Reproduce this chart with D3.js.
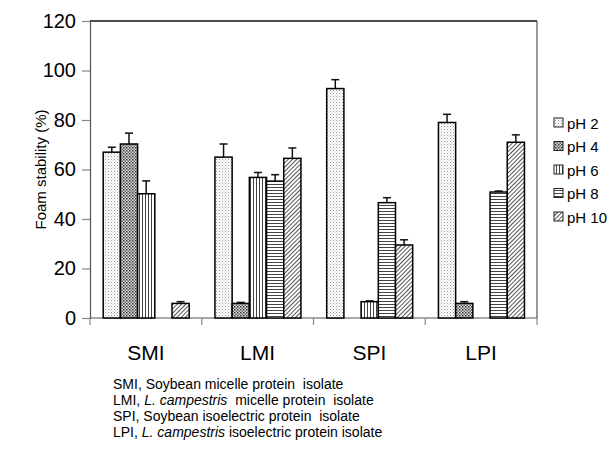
<!DOCTYPE html>
<html><head><meta charset="utf-8">
<script src="https://cdn.jsdelivr.net/npm/d3@7"></script>
<style>body{margin:0;background:#fff}svg{display:block}text{font-family:"Liberation Sans",Arial,sans-serif}</style>
</head><body>
<script>
const categories = ["SMI", "LMI", "SPI", "LPI"];
const seriesNames = ["pH 2", "pH 4", "pH 6", "pH 8", "pH 10"];
const pH2  = [67, 65, 92.7, 79];
const pH4  = [70.3, 5.9, null, 5.9];
const pH6  = [50.2, 56.8, 6.6, null];
const pH8  = [null, 55.3, 46.6, 50.9];
const pH10 = [5.9, 64.5, 29.5, 71];
const err2  = [2, 5.3, 3.6, 3.3];
const err4  = [4.4, 0.4, null, 0.7];
const err6  = [5.2, 2, 0.3, null];
const err8  = [null, 2.6, 2, 0.4];
const err10 = [0.7, 4.2, 2.1, 3];
const yTicks = [0, 20, 40, 60, 80, 100, 120];
const footnotes = [
  [["SMI, Soybean micelle protein  isolate", false]],
  [["LMI, ", false], ["L. campestris", true], ["  micelle protein  isolate", false]],
  [["SPI, Soybean isoelectric protein  isolate", false]],
  [["LPI, ", false], ["L. campestris", true], [" isoelectric protein isolate", false]]
];

(function () {
const values = [pH2, pH4, pH6, pH8, pH10];
const errors = [err2, err4, err6, err8, err10];

const W = 611, H = 449;
const svg = d3.select("body").append("svg").attr("width", W).attr("height", H);
const defs = svg.append("defs");

function pat(id, w, h, draw) {
  const p = defs.append("pattern").attr("id", id).attr("patternUnits", "userSpaceOnUse")
    .attr("width", w).attr("height", h);
  p.append("rect").attr("width", w).attr("height", h).attr("fill", "#fff");
  draw(p);
}
pat("p0", 3, 3, p => {
  p.append("rect").attr("x", 0).attr("y", 0).attr("width", 1).attr("height", 1).attr("fill", "#999");
  p.append("rect").attr("x", 1.5).attr("y", 1.5).attr("width", 1).attr("height", 1).attr("fill", "#bbb");
});
pat("p1", 3, 3, p => {
  p.append("rect").attr("width", 3).attr("height", 3).attr("fill", "#ddd");
  p.append("rect").attr("x", 0).attr("y", 0).attr("width", 1.5).attr("height", 1.5).attr("fill", "#333");
  p.append("rect").attr("x", 1.5).attr("y", 1.5).attr("width", 1.5).attr("height", 1.5).attr("fill", "#666");
});
pat("p2", 3, 3, p => {
  p.append("rect").attr("x", 1).attr("y", 0).attr("width", 1).attr("height", 3).attr("fill", "#444");
});
pat("p3", 3, 3, p => {
  p.append("rect").attr("x", 0).attr("y", 1).attr("width", 3).attr("height", 1).attr("fill", "#444");
});
pat("p4", 3, 3, p => {
  p.attr("patternTransform", "rotate(45)");
  p.append("rect").attr("x", 1).attr("y", 0).attr("width", 1).attr("height", 3).attr("fill", "#555");
});

const mL = 90, mR = 537, mT = 21, mB = 318;
const y = d3.scaleLinear().domain([0, 120]).range([mB, mT]);
const x0 = d3.scaleBand().domain(categories).range([mL, mR]).padding(0);
const x1 = d3.scaleBand().domain(seriesNames).range([13.2, 13.2 + 86]).padding(0);

svg.append("line").attr("x1", mL).attr("x2", mR).attr("y1", mT).attr("y2", mT)
  .attr("stroke", "#111").attr("stroke-width", 1.5);
svg.append("line").attr("x1", mR).attr("x2", mR).attr("y1", mT).attr("y2", mB)
  .attr("stroke", "#333").attr("stroke-width", 1);

const yAxis = d3.axisLeft(y).tickValues(yTicks).tickSize(8).tickPadding(6);
const gy = svg.append("g").attr("transform", `translate(${mL},0)`).call(yAxis);
gy.select(".domain").attr("stroke", "#555").attr("stroke-width", 1.2);
gy.selectAll(".tick line").attr("stroke", "#888").attr("stroke-width", 1.2);
gy.selectAll("text").attr("font-size", 20).attr("fill", "#000")
  .attr("font-family", '"Liberation Sans",Arial,sans-serif');

const xb = svg.append("g");
xb.append("line").attr("x1", mL).attr("x2", mR).attr("y1", mB).attr("y2", mB)
  .attr("stroke", "#555").attr("stroke-width", 1.2);
const bounds = categories.map(c => x0(c)).concat([mR]);
xb.selectAll("line.t").data(bounds).join("line").attr("class", "t")
  .attr("x1", d => d).attr("x2", d => d).attr("y1", mB).attr("y2", mB + 7)
  .attr("stroke", "#888").attr("stroke-width", 1.2);
xb.selectAll("text").data(categories).join("text")
  .attr("x", d => x0(d) + x0.bandwidth() / 2).attr("y", 360)
  .attr("text-anchor", "middle").attr("font-size", 21).text(d => d);

svg.append("text").attr("transform", `translate(46,${(mT + mB) / 2}) rotate(-90)`)
  .attr("text-anchor", "middle").attr("font-size", 15).text("Foam stability (%)");

const data = [];
categories.forEach((c, i) => seriesNames.forEach((s, j) => {
  if (values[j][i] != null) data.push({c, s, j, v: values[j][i], e: errors[j][i]});
}));
const g = svg.append("g");
const cx = d => x0(d.c) + x1(d.s) + x1.bandwidth() / 2;
g.selectAll("line.err").data(data).join("line").attr("class", "err")
  .attr("x1", cx).attr("x2", cx)
  .attr("y1", d => y(d.v)).attr("y2", d => y(d.v + d.e))
  .attr("stroke", "#111").attr("stroke-width", 1.5);
g.selectAll("line.cap").data(data).join("line").attr("class", "cap")
  .attr("x1", d => cx(d) - 4).attr("x2", d => cx(d) + 4)
  .attr("y1", d => y(d.v + d.e)).attr("y2", d => y(d.v + d.e))
  .attr("stroke", "#111").attr("stroke-width", 1.5);
g.selectAll("rect").data(data).join("rect")
  .attr("x", d => x0(d.c) + x1(d.s)).attr("width", x1.bandwidth())
  .attr("y", d => y(d.v)).attr("height", d => y(0) - y(d.v))
  .attr("fill", d => `url(#p${d.j})`).attr("stroke", "#000").attr("stroke-width", 1.5);

const lg = svg.append("g");
seriesNames.forEach((s, j) => {
  const yy = 123 + j * 23.5;
  lg.append("rect").attr("x", 554).attr("y", yy - 5).attr("width", 9).attr("height", 9)
    .attr("fill", `url(#p${j})`).attr("stroke", "#222").attr("stroke-width", 1);
  lg.append("text").attr("x", 567).attr("y", yy + 5.5).attr("font-size", 15).text(s);
});

footnotes.forEach((line, i) => {
  const t = svg.append("text").attr("x", 113).attr("y", 389 + i * 16).attr("font-size", 14);
  line.forEach(([txt, it]) => t.append("tspan").attr("font-style", it ? "italic" : "normal")
    .attr("xml:space", "preserve").text(txt));
});
})();
</script>
</body></html>
